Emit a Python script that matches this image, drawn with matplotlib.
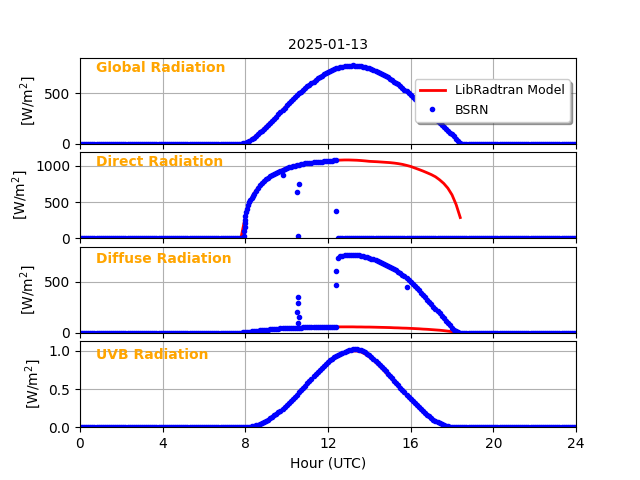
import numpy as np
import matplotlib
matplotlib.use("Agg")
import matplotlib.pyplot as plt

# ---------------- data ----------------
title = "2025-01-13"
panel_names = ["Global Radiation", "Direct Radiation", "Diffuse Radiation", "UVB Radiation"]
xticks = [0, 4, 8, 12, 16, 20, 24]

# BSRN measurements (0.1 h resolution, daytime segments; night = 0)
glob_start = 7.8
glob_day = [0, 2, 8, 18, 30, 44, 59, 75, 93, 111, 130, 150, 170, 190, 210, 230, 250, 270,
            292, 314, 336, 358, 380, 400, 420, 440, 460, 480, 500, 518, 536, 553, 570, 586,
            602, 618, 634, 650, 664, 678, 692, 706, 718, 727, 736, 745, 752, 758, 763, 768,
            772, 775, 777, 779, 780, 779, 778, 775, 772, 768, 764, 759, 753, 746, 738, 729,
            719, 708, 697, 685, 673, 660, 646, 632, 618, 604, 590, 575, 557, 539, 521, 503,
            485, 466, 447, 428, 409, 390, 370, 350, 330, 310, 290, 270, 250, 230, 210, 190,
            170, 150, 130, 110, 92, 72, 50, 28, 8, 0]

dir_start = 7.8
dir_day = [0, 0, 300, 410, 495, 560, 612, 656, 696, 732, 764, 791, 815, 836, 856, 874, 890,
           905, 919, 932, 945, 957, 968, 979, 989, 998, 1006, 1013, 1019, 1025, 1030, 1034,
           1038, 1042, 1045, 1048, 1051, 1054, 1057, 1060, 1063, 1066, 1069, 1072, 1075,
           1077, 1079]
dir_spike_t = [7.93, 7.95, 7.96, 7.97, 7.98, 8.05, 8.15, 8.25, 8.35,
               9.80, 10.51, 10.56, 10.61, 12.39]
dir_spike_v = [30, 100, 160, 210, 255, 360, 455, 530, 588,
               870, 635, 25, 746, 370]

dif_start = 7.8
dif_day = [0, 2, 5, 8, 10, 13, 15, 18, 20, 22, 25, 27, 29, 31, 33, 35, 36, 38, 39, 41, 42,
           43, 44, 45, 46, 47, 48, 49, 49, 50, 51, 51, 52, 52, 53, 53, 54, 54, 55, 55, 55,
           56, 56, 56, 57, 57, 57,
           740, 752, 758, 762, 765, 768, 770, 770, 769, 767, 763, 758, 752, 747, 741, 735,
           729, 722, 715, 708, 700, 690, 680, 670, 660, 650, 639, 628, 615, 601, 587, 572,
           556, 540, 522, 503, 483, 462, 440, 417, 394, 371, 348, 325, 302, 279, 256, 234,
           212, 190, 167, 143, 119, 95, 72, 50, 30, 12, 3, 0]
dif_spike_t = [10.56, 10.56, 10.51, 10.61, 10.56, 12.39, 12.39, 15.84]
dif_spike_v = [350, 290, 207, 157, 97, 473, 607, 447]

uvb_start = 8.0
uvb_day = [0.0, 0.002, 0.005, 0.010, 0.016, 0.024, 0.033, 0.044, 0.056, 0.070, 0.085,
           0.100, 0.117, 0.135, 0.154, 0.174, 0.195, 0.217, 0.240, 0.264, 0.289, 0.315,
           0.342, 0.370, 0.398, 0.427, 0.456, 0.485, 0.515, 0.545, 0.575, 0.605, 0.635,
           0.665, 0.695, 0.723, 0.750, 0.777, 0.803, 0.828, 0.852, 0.875, 0.896, 0.915,
           0.932, 0.948, 0.962, 0.975, 0.989, 1.000, 1.010, 1.018, 1.022, 1.024, 1.022,
           1.017, 1.008, 0.996, 0.981, 0.963, 0.943, 0.921, 0.898, 0.873, 0.847, 0.820,
           0.792, 0.763, 0.733, 0.703, 0.672, 0.641, 0.610, 0.579, 0.548, 0.517, 0.487,
           0.457, 0.428, 0.399, 0.371, 0.344, 0.318, 0.292, 0.267, 0.240, 0.213, 0.187,
           0.163, 0.141, 0.120, 0.100, 0.082, 0.065, 0.050, 0.037, 0.026, 0.017, 0.010,
           0.005, 0.002, 0.0]

# LibRadtran model (0.2 h resolution from 7.8 h)
model_start = 7.8
glob_model = [0, 8, 30, 59, 93, 130, 170, 210, 250, 292, 336, 380, 420, 460, 500, 536, 570,
              602, 634, 664, 692, 718, 736, 752, 763, 772, 777, 780, 778, 772, 764, 753,
              738, 719, 697, 673, 646, 618, 590, 557, 521, 485, 447, 409, 370, 330, 290,
              250, 210, 170, 130, 92, 50, 8]
dir_model = [20, 300, 495, 612, 696, 764, 815, 856, 890, 924, 949, 972, 992, 1008, 1021,
             1031, 1039, 1045, 1051, 1057, 1063, 1069, 1075, 1079, 1081, 1083, 1083, 1081,
             1079, 1075, 1070, 1064, 1061, 1058, 1054, 1050, 1046, 1040, 1032, 1022, 1008,
             993, 972, 951, 929, 905, 880, 850, 808, 758, 692, 600, 465, 285]
dif_model = [0, 5, 10, 15, 20, 25, 29, 33, 36, 39, 42, 44, 46, 48, 49, 51, 52, 53, 54, 55,
             55, 56, 57, 57, 57, 57, 57, 57, 56, 56, 55, 55, 54, 53, 52, 51, 50, 48, 47, 45,
             44, 42, 40, 38, 35, 33, 30, 27, 24, 20, 15, 10, 4, 0]
uvb_model = [0.0, 0.0, 0.005, 0.015, 0.032, 0.054, 0.082, 0.114, 0.150, 0.190, 0.234, 0.282,
             0.334, 0.389, 0.446, 0.504, 0.563, 0.622, 0.680, 0.734, 0.786, 0.833, 0.876,
             0.912, 0.942, 0.968, 0.988, 0.999, 0.998, 0.986, 0.958, 0.921, 0.876, 0.826,
             0.772, 0.714, 0.655, 0.594, 0.534, 0.475, 0.416, 0.360, 0.308, 0.258, 0.205,
             0.157, 0.116, 0.080, 0.049, 0.025, 0.010, 0.002, 0.0, 0.0]

# ---------------- helpers ----------------
hours = np.arange(241) / 10.0


def full_day(start, day):
    v = np.zeros(len(hours))
    i0 = int(round(start * 10))
    v[i0:i0 + len(day)] = day
    return v


def model_hours(n):
    return model_start + 0.2 * np.arange(n)


series = [
    (full_day(glob_start, glob_day), glob_model, None, None),
    (full_day(dir_start, dir_day), dir_model, dir_spike_t, dir_spike_v),
    (full_day(dif_start, dif_day), dif_model, dif_spike_t, dif_spike_v),
    (full_day(uvb_start, uvb_day), uvb_model, None, None),
]
label_y = [0.88, 0.88, 0.86, 0.84]

fig, axes = plt.subplots(4, 1, sharex=True, figsize=(6.4, 4.8), dpi=100)
fig.subplots_adjust(hspace=0.1)

for ax, name, ly, (bsrn, model, st, sv) in zip(axes, panel_names, label_y, series):
    ax.plot(model_hours(len(model)), model, 'r-', lw=2, label='LibRadtran Model')
    ax.plot(hours, bsrn, 'b.', label='BSRN')
    if st is not None:
        ax.plot(st, sv, 'b.')
    ymax = max(np.max(bsrn), np.max(model))
    ax.set_ylim(0, 1.1 * ymax)
    ax.set_xlim(0, 24)
    ax.set_xticks(xticks)
    ax.grid(True)
    ax.set_ylabel('[W/m$^2$]')
    ax.text(0.032, ly, name, transform=ax.transAxes, color='orange',
            fontsize=10, fontweight='bold', va='center', ha='left')

axes[0].set_title(title, fontsize=10)
axes[0].legend(loc='center right', shadow=True, fontsize=9)
axes[-1].set_xlabel('Hour (UTC)')

fig.savefig('out.png', dpi=100)
